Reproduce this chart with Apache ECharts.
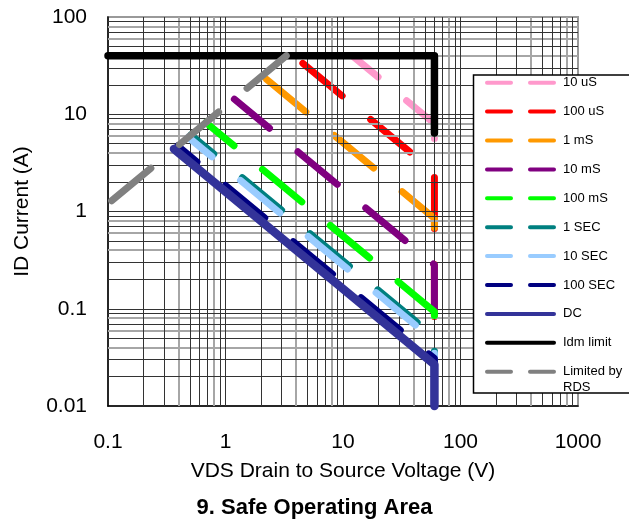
<!DOCTYPE html>
<html>
<head>
<meta charset="utf-8">
<script src="https://cdn.jsdelivr.net/npm/echarts@6/dist/echarts.min.js"></script>
<style>
  html, body { margin: 0; padding: 0; background: #fff; }
  #chart { width: 629px; height: 523px; }
</style>
</head>
<body>
<div id="chart"></div>
<script>
// tick labels
const xTicks = [0.1, 1, 10, 100, 1000];
const yTicks = [0.01, 0.1, 1, 10, 100];

// [VDS, ID] corner points
const pulse10us = [[12, 40], [60, 8], [60, 5.5]];
const pulse100us = [[3.8, 40], [60, 2.53], [60, 0.08]];
const pulse1ms = [[2.06, 24.8], [60, 0.85], [60, 0.08]];
const pulse10ms = [[1.19, 14.3], [60, 0.283], [60, 0.1]];
const pulse100ms = [[0.682, 8.21], [60, 0.0933], [60, 0.085]];
const pulse1s = [[0.507, 6.11], [60, 0.0517], [60, 0.02]];
const pulse10s = [[0.482, 5.81], [60, 0.0467], [60, 0.02]];
const pulse100s = [[0.392, 4.72], [60, 0.0308], [60, 0.012]];
const dcLine = [[0.364, 4.4], [60, 0.0267], [60, 0.01]];
const idmLimit = [[0.1, 40], [60, 40], [60, 6.4]];
const rdsLimit = [[0.1, 1.2], [3.3, 40]];

const curves = [
  { name: "10 uS", color: "#FF99CC", data: pulse10us, dash: 17.5 },
  { name: "100 uS", color: "#FF0000", data: pulse100us, dash: 76 },
  { name: "1 mS", color: "#FF9900", data: pulse1ms, dash: 82.5 },
  { name: "10 mS", color: "#800080", data: pulse10ms, dash: 5.4 },
  { name: "100 mS", color: "#00FF00", data: pulse100ms, dash: 14.6 },
  { name: "1 SEC", color: "#008080", data: pulse1s, dash: 21.2 },
  { name: "10 SEC", color: "#99CCFF", data: pulse10s, dash: 20.2 },
  { name: "100 SEC", color: "#000080", data: pulse100s, dash: 26 },
  { name: "DC", color: "#333399", data: dcLine, dash: null, width: 8.5 },
  { name: "Idm limit", color: "#000000", data: idmLimit, dash: null, width: 7.5 },
  { name: "Limited by RDS", color: "#808080", data: rdsLimit, dash: 83.3 },
];

const font = "Liberation Sans, Arial, sans-serif";

// log grid: black and grey lines as in the original sheet
const darkX = [], greyX = [], darkY = [], greyY = [];
[0.1, 1, 10, 100].forEach((d) => {
  [2, 3, 5, 6, 7, 9].forEach((m) => darkX.push(m * d));
  [4, 8].forEach((m) => greyX.push(m * d));
  if (d > 0.1) darkX.push(d);
});
[0.01, 0.1, 1, 10].forEach((d) => {
  [2, 3, 5, 7, 9].forEach((m) => darkY.push(m * d));
  [4, 6, 8].forEach((m) => greyY.push(m * d));
  if (d > 0.01) darkY.push(d);
});

const greyLine = { color: "#a6a6a6", width: 2, type: "solid" };
const darkLine = { color: "#333", width: 1, type: "solid" };
const gridMarks = [
  ...greyX.map((v) => ({ xAxis: v, lineStyle: greyLine })),
  ...greyY.map((v) => ({ yAxis: v, lineStyle: greyLine })),
  ...darkX.map((v) => ({ xAxis: v, lineStyle: darkLine })),
  ...darkY.map((v) => ({ yAxis: v, lineStyle: darkLine })),
];

function tickText(v) {
  return String(+Number(v).toPrecision(3));
}

const chart = echarts.init(document.getElementById("chart"));

const legendGraphics = [
  {
    type: "rect",
    shape: { x: 473.5, y: 75, width: 200, height: 318 },
    style: { fill: "#fff", stroke: "#000", lineWidth: 1.5 },
    z: 100,
  },
];
curves.forEach((c, i) => {
  const y = 82.7 + i * 28.9;
  const twoLines = c.name === "Limited by RDS";
  legendGraphics.push({
    type: "line",
    shape: { x1: 487, y1: y, x2: 554, y2: y },
    style: {
      stroke: c.color,
      lineWidth: 4,
      lineCap: "round",
      lineDash: c.dash === null ? null : [24, 19],
    },
    z: 101,
  });
  legendGraphics.push({
    type: "text",
    style: {
      x: 563,
      y: twoLines ? y - 8 : y,
      text: twoLines ? "Limited by\nRDS" : c.name,
      fill: "#000",
      fontSize: 13,
      fontFamily: font,
      lineHeight: 16,
      verticalAlign: twoLines ? "top" : "middle",
    },
    z: 101,
  });
});

chart.setOption({
  animation: false,
  backgroundColor: "#fff",
  title: {
    text: "9. Safe Operating Area",
    left: "center",
    top: 497,
    padding: [0, 0, 0, 58],
    textStyle: { fontSize: 22, fontWeight: "bold", fontFamily: font, color: "#000" },
  },
  grid: {
    left: 108,
    right: 51,
    top: 17,
    bottom: 117,
    show: true,
    borderColor: "#999",
    borderWidth: 2,
    backgroundColor: "#fff",
  },
  xAxis: {
    type: "log",
    logBase: 10,
    min: xTicks[0],
    max: xTicks[xTicks.length - 1],
    splitNumber: 4,
    name: "VDS Drain to Source Voltage (V)",
    nameLocation: "middle",
    nameGap: 55,
    nameTextStyle: { fontSize: 21, fontFamily: font, color: "#000" },
    axisLine: { show: true, lineStyle: { color: "#000", width: 1.5 } },
    axisTick: { show: false },
    splitLine: { show: false },
    axisLabel: {
      fontSize: 21,
      fontFamily: font,
      color: "#000",
      margin: 26,
      formatter: tickText,
    },
  },
  yAxis: {
    type: "log",
    logBase: 10,
    min: yTicks[0],
    max: yTicks[yTicks.length - 1],
    splitNumber: 4,
    name: "ID Current (A)",
    nameLocation: "middle",
    nameRotate: 90,
    nameGap: 75,
    nameTextStyle: { fontSize: 21, fontFamily: font, color: "#000" },
    axisLine: { show: true, lineStyle: { color: "#000", width: 1.5 } },
    axisTick: { show: false },
    splitLine: { show: false },
    axisLabel: {
      fontSize: 21,
      fontFamily: font,
      color: "#000",
      margin: 21,
      formatter: tickText,
    },
  },
  series: [
    {
      // helper series carrying the grid lines
      type: "line",
      data: [[1, 1]],
      symbol: "none",
      lineStyle: { width: 0 },
      z: 1,
      silent: true,
      markLine: {
        silent: true,
        symbol: ["none", "none"],
        label: { show: false },
        lineStyle: { type: "solid" },
        data: gridMarks,
      },
    },
    ...curves.map((c, i) => ({
      name: c.name,
      type: "line",
      data: c.data,
      symbol: "none",
      z: 2 + i,
      clip: c.name !== "DC",
      lineStyle: {
        color: c.color,
        width: c.width || 7,
        type: c.dash === null ? "solid" : [51, 37],
        dashOffset: c.dash === null ? 0 : c.dash,
        cap: "round",
        join: "round",
      },
    })),
  ],
  graphic: legendGraphics,
});
</script>
</body>
</html>
